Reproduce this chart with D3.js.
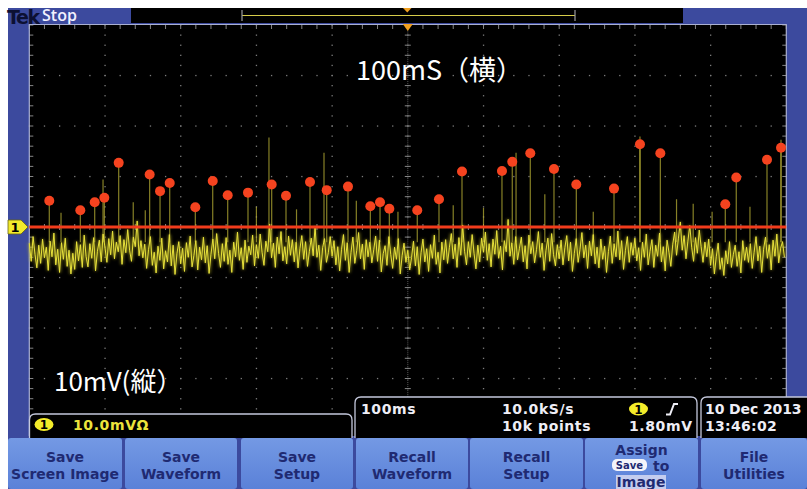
<!DOCTYPE html>
<html><head><meta charset="utf-8">
<script src="https://cdn.jsdelivr.net/npm/d3@7"></script>
<style>
html,body{margin:0;padding:0;background:#fff;}
svg{display:block;}
</style></head><body>
<svg id="scope" width="807" height="489"></svg>
<script>
// ---- Channel 1 acquisition: 100 ms/div, 10 mV/div ----
const timeDivsMs = d3.range(0, 1001, 100);
const voltDivsMv = d3.range(-40, 41, 10);
const sampleStepMs = 2.5;
const noiseMv = [
-3.2,-6.8,-1.9,-5.4,-8.1,-3.6,-7.2,-2.4,-6.1,-4.0,-8.6,-2.8,-5.9,-1.2,-7.5,-4.4,-9.0,-3.1,-6.4,-2.2,
-7.8,-4.6,-9.3,-5.2,-8.4,-2.9,-6.7,-3.5,-8.0,-1.6,-5.8,-7.9,-3.3,-6.2,-2.1,-8.7,-4.8,-2.6,-6.9,-1.4,
-4.1,-7.0,-2.3,-5.5,-0.8,-6.3,-3.0,-4.9,-1.7,-7.4,-2.5,-5.1,-0.5,-4.6,-6.8,-2.0,-3.9,1.2,-5.7,-2.7,
-6.1,-3.4,-8.2,-4.5,-1.9,-7.6,-5.0,-9.1,-3.8,-6.6,-2.2,-8.3,-4.7,-6.9,-1.5,-7.7,-3.6,-9.4,-5.3,-2.9,
-7.3,-4.2,-8.8,-3.1,-6.0,-1.8,-7.9,-5.6,-2.7,-8.5,-4.0,-6.5,-2.0,-7.1,-3.7,-9.2,-5.4,-2.4,-6.3,-1.3,
-5.2,-8.0,-3.3,-6.8,-2.1,-7.4,-4.6,-9.0,-3.0,-5.9,-1.0,-6.6,-4.1,-8.4,-2.6,-7.0,-3.8,-5.5,-1.6,-7.7,
-3.5,-6.2,-1.4,-5.0,-7.6,-2.8,-4.9,0.6,-6.1,-3.2,-8.0,-2.0,-5.3,-0.9,-6.7,-3.9,-7.3,-1.8,-5.6,-2.5,
-6.9,-3.0,-8.1,-4.3,-1.7,-6.4,-2.9,-7.8,-4.8,-2.2,-5.7,0.2,-6.0,-3.6,-8.6,-4.1,-2.3,-7.0,-5.1,-1.9,
-5.8,-2.7,-7.5,-3.9,-8.7,-4.4,-1.5,-6.6,-3.1,-9.0,-5.0,-2.0,-7.2,-4.7,-1.1,-6.3,-3.4,-8.4,-2.5,-5.9,
-3.0,-7.1,-4.5,-1.8,-6.8,-2.6,-8.9,-5.3,-3.7,-7.6,-1.9,-5.5,-8.2,-4.0,-6.4,-2.3,-9.3,-5.7,-3.2,-7.0,
-4.6,-8.5,-6.0,-2.8,-7.7,-3.9,-9.4,-5.1,-2.4,-6.9,-4.3,-8.8,-3.5,-6.2,-1.6,-7.4,-5.0,-9.1,-3.0,-6.5,
-2.5,-7.2,-4.0,-1.3,-6.3,-3.4,-8.0,-2.1,-5.6,0.4,-4.8,-7.5,-2.9,-6.0,-1.5,-5.2,-8.3,-3.6,-6.9,-2.2,
-5.0,-1.0,-6.6,-3.3,-7.9,-2.4,-5.4,-0.7,-6.2,-3.8,-8.5,-2.7,-4.9,1.5,-5.8,-3.1,-7.4,-1.9,-6.5,-4.2,
-2.0,-6.9,-3.7,-8.3,-1.6,-5.3,-2.9,-7.1,-4.5,-0.9,-6.0,-3.2,-8.6,-4.7,-2.2,-6.8,-1.3,-5.5,-7.7,-3.5,
-6.3,-2.6,-7.5,-4.1,-1.7,-6.7,-3.0,-8.8,-5.2,-2.3,-7.0,-4.4,-1.1,-6.1,-3.6,-8.2,-2.8,-5.7,-1.5,-7.3,
-4.0,-8.1,-2.4,-6.4,-3.8,-9.0,-4.9,-1.8,-7.2,-3.3,-5.9,-0.8,-6.5,-2.7,-8.4,-4.6,-1.9,-7.0,-3.1,-5.6,
-2.2,-6.7,-4.1,-8.6,-3.0,-6.0,-1.4,-7.5,-4.8,-2.5,-8.0,-3.6,-5.8,-1.2,-6.9,-3.9,-8.7,-2.6,-5.0,-7.8,
-3.4,-1.0,-5.6,-2.2,1.0,-4.6,-1.7,-6.3,-2.8,0.3,-4.0,-6.8,-2.1,-5.2,-0.6,-3.9,-7.0,-3.0,-5.9,-2.4,
-7.6,-4.3,-9.3,-5.9,-3.2,-8.4,-6.1,-9.6,-4.7,-7.3,-2.9,-8.0,-5.5,-3.6,-7.8,-4.9,-9.1,-2.7,-6.6,-4.0,
-7.0,-3.3,-8.2,-5.0,-1.9,-6.7,-3.8,-9.0,-4.4,-2.0,-6.2,-3.5,-8.5,-2.6,-5.8,-1.4,-7.1,-4.2,-2.9,-6.0
];
// marked peaks (red dots)
const peakMs = [26.4,67.4,86.4,99.1,118.1,159.0,172.7,185.5,219.3,242.3,262.1,288.9,320.2,339.1,370.8,392.9,421.0,450.5,463.3,475.6,512.5,541.2,571.6,624.4,638.0,661.8,693.1,722.6,772.4,806.7,833.6,919.4,933.9,974.5,993.0];
const peakMv = [5.2,3.3,4.9,5.8,12.7,10.4,7.1,8.7,3.9,9.1,6.3,6.8,8.4,6.2,8.9,7.3,8.0,4.1,4.9,3.6,3.3,5.5,11.0,11.1,12.9,14.6,11.5,8.4,7.6,16.4,14.6,4.5,9.8,13.3,15.7];
// other spikes in the record
const spikeMs = [41.9,97.4,137.3,153.2,300.0,316.6,353.0,389.3,432.0,487.0,560.0,600.0,643.0,681.0,745.0,806.7,855.0,877.0,902.0,952.0,993.0];
const spikeMv = [2.8,9.4,4.9,3.3,4.0,17.7,3.5,14.7,5.2,3.0,4.3,3.8,14.7,6.5,3.0,17.9,5.5,4.6,3.0,4.0,17.3];
const thresholdMv = 0;

const buttonTop = ["Save","Save","Save","Recall","Recall","Assign","File"];
const buttonBottom = ["Screen Image","Waveform","Setup","Waveform","Setup","to","Utilities"];

const svg = d3.select("#scope");
const BLUE = "#3c4a9e";
const FONT = "'DejaVu Sans', sans-serif";

// frame
svg.append("rect").attr("x",0).attr("y",0).attr("width",807).attr("height",489).attr("fill","#fff");
svg.append("rect").attr("x",8).attr("y",8).attr("width",799).attr("height",481).attr("fill",BLUE);

// status bar
svg.append("text").attr("x",7).attr("y",23.5).attr("fill","#0c1033")
  .attr("font-family",FONT).attr("font-weight","bold").attr("font-size",19).attr("letter-spacing",-1.4).text("Tek");
svg.append("text").attr("x",42).attr("y",21).attr("fill","#f2f2ff")
  .attr("font-family","'Open Sans', sans-serif").attr("font-weight",600).attr("font-size",16).text("Stop");
svg.append("rect").attr("x",131).attr("y",8).attr("width",552).attr("height",15).attr("fill","#000");
// record view bracket
const rv = svg.append("g");
rv.append("line").attr("x1",242).attr("x2",575).attr("y1",15.5).attr("y2",15.5).attr("stroke","#d6cc4a").attr("stroke-width",1.2);
[242,575].forEach(xx=>{
  rv.append("line").attr("x1",xx).attr("x2",xx).attr("y1",10).attr("y2",21).attr("stroke","#9a9aa0").attr("stroke-width",1.2);
});
rv.append("path").attr("d","M403,8 L411.5,8 L407.3,12.5 Z").attr("fill","#f0a020");

// graticule
const L = 29.3, R = 786.3, T = 25, B = 429;
const x = d3.scaleLinear().domain([0,1000]).range([L,R]);
const y = d3.scaleLinear().domain([-40,40]).range([B,T]);
svg.append("rect").attr("x",L).attr("y",24).attr("width",R-L).attr("height",412).attr("fill","#000");

const grid = svg.append("g").attr("fill","#7c7c7c");
const minorT = d3.range(0,1000.01,20), minorV = d3.range(-40,40.01,2);
timeDivsMs.slice(1,-1).forEach(t=>{
  minorV.forEach(v=>grid.append("rect").attr("x",x(t)-0.6).attr("y",y(v)-0.6).attr("width",1.3).attr("height",1.3));
});
voltDivsMv.slice(1,-1).forEach(v=>{
  minorT.forEach(t=>grid.append("rect").attr("x",x(t)-0.6).attr("y",y(v)-0.6).attr("width",1.3).attr("height",1.3));
});
const ticks = svg.append("g").attr("stroke","#858585").attr("stroke-width",1);
// centre cross tick marks
minorV.forEach(v=>ticks.append("line").attr("x1",x(500)-3).attr("x2",x(500)+3).attr("y1",y(v)).attr("y2",y(v)));
d3.range(-40,40.01,0.4).forEach(v=>grid.append("rect").attr("x",x(500)-0.5).attr("y",y(v)-0.5).attr("width",1).attr("height",1).attr("fill","#5a5a5a"));
minorT.forEach(t=>ticks.append("line").attr("x1",x(t)).attr("x2",x(t)).attr("y1",y(0)-3).attr("y2",y(0)+3));
// edge ticks
minorT.forEach(t=>ticks.append("line").attr("x1",x(t)).attr("x2",x(t)).attr("y1",T).attr("y2",T+4));
minorV.forEach(v=>{
  ticks.append("line").attr("x1",L).attr("x2",L+4).attr("y1",y(v)).attr("y2",y(v));
  ticks.append("line").attr("x1",R-4).attr("x2",R).attr("y1",y(v)).attr("y2",y(v));
});
// border
svg.append("path").attr("d",`M${L},436 L${L},24.5 L${R},24.5 L${R},436`).attr("fill","none").attr("stroke","#aab0d2").attr("stroke-width",1.2);
// trigger position marker
svg.append("path").attr("d",`M${x(500)-5},24 L${x(500)+5},24 L${x(500)},31 Z`).attr("fill","#f0a020");

// waveform
const defs = svg.append("defs");
defs.append("filter").attr("id","glow").attr("x","-5%").attr("y","-20%").attr("width","110%").attr("height","140%")
  .append("feGaussianBlur").attr("stdDeviation",1.6);
const pts = noiseMv.map((v,i)=>[i*sampleStepMs, v]);
const line = d3.line().x(d=>x(d[0])).y(d=>y(d[1]));
const wave = svg.append("g");
wave.append("path").attr("d",line(pts)).attr("fill","none").attr("stroke","#b8b020").attr("stroke-width",3.2).attr("opacity",0.5).attr("filter","url(#glow)");
const spikes = spikeMs.map((t,i)=>[t,spikeMv[i]]).concat(peakMs.map((t,i)=>[t,peakMv[i]]));
wave.selectAll("line.sp").data(spikes).join("line").attr("class","sp")
  .attr("x1",d=>x(d[0])).attr("x2",d=>x(d[0])).attr("y1",y(-3)).attr("y2",d=>y(d[1]))
  .attr("stroke","#b4ac34").attr("stroke-width",1.2).attr("opacity",0.75);
wave.append("path").attr("d",line(pts)).attr("fill","none").attr("stroke","#e8e23c").attr("stroke-width",1);

// threshold line and peak markers
svg.append("line").attr("x1",L).attr("x2",R).attr("y1",y(thresholdMv)).attr("y2",y(thresholdMv))
  .attr("stroke","#f23c1c").attr("stroke-width",3);
svg.append("g").selectAll("circle").data(peakMs.map((t,i)=>[t,peakMv[i]])).join("circle")
  .attr("cx",d=>x(d[0])).attr("cy",d=>y(d[1])).attr("r",5).attr("fill","#f5431f");

// channel 1 ground marker
svg.append("path").attr("d",`M8,${y(0)-7} L21,${y(0)-7} L28,${y(0)} L21,${y(0)+7} L8,${y(0)+7} Z`)
  .attr("fill","#f2ea2c").attr("stroke","#6a6410").attr("stroke-width",0.8);
svg.append("text").attr("x",15).attr("y",y(0)+5).attr("text-anchor","middle").attr("font-family",FONT)
  .attr("font-weight","bold").attr("font-size",13).attr("fill","#000").text("1");

// scale annotations
svg.append("text").attr("x",356).attr("y",80).attr("fill","#fff").attr("font-family","'Noto Sans CJK JP', sans-serif")
  .attr("font-size",27).text("100mS（横）");
svg.append("text").attr("x",54).attr("y",391).attr("fill","#fff").attr("font-family","'Noto Sans CJK JP', sans-serif")
  .attr("font-size",26).text("10mV(縦）");

// readout boxes
function box(x0,y0,x1,y1){
  svg.append("path").attr("d",`M${x0},${y1} L${x0},${y0+6} Q${x0},${y0} ${x0+6},${y0} L${x1-6},${y0} Q${x1},${y0} ${x1},${y0+6} L${x1},${y1}`)
    .attr("fill","#000").attr("stroke","#c4c8dc").attr("stroke-width",1.3);
}
box(29.5,414,352,438);
box(355,397,697,438);
box(701,397,815,438);
function badge(cx,cy){
  svg.append("ellipse").attr("cx",cx).attr("cy",cy).attr("rx",9.5).attr("ry",6.5).attr("fill","#f4ec2a");
  svg.append("text").attr("x",cx).attr("y",cy+4.5).attr("text-anchor","middle").attr("font-family",FONT)
    .attr("font-weight","bold").attr("font-size",12).attr("fill","#000").text("1");
}
function rtext(xx,yy,s,col,ls){
  svg.append("text").attr("x",xx).attr("y",yy).attr("fill",col||"#eeeef6").attr("font-family",FONT)
    .attr("font-weight","bold").attr("font-size",14).attr("letter-spacing",ls===undefined?0.6:ls).text(s);
}
badge(44,424.5);
rtext(73,430,"10.0mVΩ","#ece43c");
rtext(361,414,"100ms");
rtext(502,414,"10.0kS/s");
rtext(502,431,"10k points");
badge(638.5,409);
svg.append("path").attr("d","M666,414.5 L670,414.5 L674,404 L678,404").attr("fill","none").attr("stroke","#eeeef6").attr("stroke-width",2);
rtext(629,431,"1.80mV");
rtext(705,414,"10 Dec 2013",null,-0.1);
rtext(705,431,"13:46:02",null,0.3);

// soft-key menu
const btnX = [8,125,241,356,470,585,701];
const btnW = [114,112,112,112,113,113,106];
const grad = defs.append("linearGradient").attr("id","btn").attr("x1",0).attr("x2",0).attr("y1",0).attr("y2",1);
grad.append("stop").attr("offset","0%").attr("stop-color","#7499e4");
grad.append("stop").attr("offset","100%").attr("stop-color","#5a81d8");
const BTXT = "#1f2a72";
buttonTop.forEach((s,i)=>{
  const bx = btnX[i], bw = btnW[i], cx = bx + bw/2;
  svg.append("rect").attr("x",bx).attr("y",438).attr("width",bw).attr("height",51).attr("rx",3).attr("fill","url(#btn)");
  if (s==="Assign"){
    svg.append("text").attr("x",cx).attr("y",455).attr("text-anchor","middle").attr("font-family",FONT)
      .attr("font-weight","bold").attr("font-size",14).attr("fill",BTXT).text(s);
    svg.append("rect").attr("x",612).attr("y",459).attr("width",35).attr("height",12).attr("rx",5).attr("fill","#f4f4fa");
    svg.append("text").attr("x",629.5).attr("y",469).attr("text-anchor","middle").attr("font-family",FONT)
      .attr("font-weight","bold").attr("font-size",10).attr("fill",BTXT).text("Save");
    svg.append("text").attr("x",653).attr("y",471).attr("font-family",FONT)
      .attr("font-weight","bold").attr("font-size",14).attr("fill",BTXT).text(buttonBottom[i]);
    svg.append("rect").attr("x",616).attr("y",475).attr("width",50).attr("height",14).attr("fill","#c4cdef");
    svg.append("text").attr("x",641).attr("y",487).attr("text-anchor","middle").attr("font-family",FONT)
      .attr("font-weight","bold").attr("font-size",14).attr("fill",BTXT).text("Image");
  } else {
    svg.append("text").attr("x",cx).attr("y",462).attr("text-anchor","middle").attr("font-family",FONT)
      .attr("font-weight","bold").attr("font-size",14).attr("fill",BTXT).text(s);
    svg.append("text").attr("x",cx).attr("y",479).attr("text-anchor","middle").attr("font-family",FONT)
      .attr("font-weight","bold").attr("font-size",14).attr("fill",BTXT).text(buttonBottom[i]);
  }
});
</script>
</body></html>
